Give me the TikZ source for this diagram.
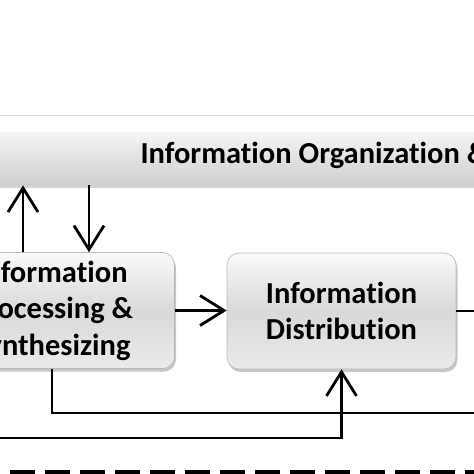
\documentclass[tikz,border=0pt]{standalone}
\usepackage{fontspec}
\setmainfont{Carlito}[Ligatures={NoCommon}]
\usetikzlibrary{arrows.meta, shadows, calc}

\tikzset{
  blockbox/.style={rounded corners=12pt, draw=gray!55, line width=0.6pt,
    top color=gray!4, bottom color=gray!16, middle color=gray!30,
    minimum height=116pt, align=center,
    font=\fontsize{30.5}{36.5}\selectfont\bfseries,
    drop shadow={shadow xshift=1.5pt, shadow yshift=-3pt, opacity=0.45}},
  orgbar/.style={top color=gray!8, bottom color=gray!38, draw=none,
    minimum width=520pt, minimum height=53pt, anchor=north west,
    drop shadow={shadow xshift=0pt, shadow yshift=-3pt, opacity=0.35}},
  flow/.style={line width=2.8pt, -{Straight Barb[length=24pt, width=30pt, line width=2.8pt]}},
  wire/.style={line width=2.8pt},
}

\begin{document}
\begin{tikzpicture}[x=1pt, y=-1pt]
    % 1. Frame of the picture
    \path[use as bounding box, clip] (0,0) rectangle (474,474);
    \draw[gray!25, line width=0.8pt] (0,115) -- (474,115);

    % 2. Organization bar and the two blocks
    \node[orgbar] (org) at (-20,132) {};
    \node[anchor=base west, font=\fontsize{30.5}{36.5}\selectfont\bfseries] (orgtext) at (137,163) {Information Organization \&};
    \node[blockbox, minimum width=245pt] (proc) at (52,310.5) {Information\\Processing \&\\Synthesizing};
    \node[blockbox, minimum width=229pt] (dist) at (341.5,311) {Information\\Distribution};

    % 3. Helper coordinates
    \coordinate (upx) at (23,0);
    \coordinate (downx) at (89,0);
    \coordinate (loopx) at (52,0);
    \coordinate (outr) at (480,413);
    \coordinate (inl) at (-5,438);

    % 4. Connectors
    \draw[flow] (upx |- proc.north) -- (upx |- org.south);
    \draw[flow] (downx |- org.south) -- (downx |- proc.north);
    \draw[flow] (proc.east) -- (proc.east -| dist.west);
    \draw[wire] (dist.east) -- ++(30,0);
    \draw[wire] (loopx |- proc.south) |- (outr);
    \draw[flow] (inl) -| (dist.south);

    % 5. Dashed border at the bottom
    \draw[line width=6pt, dash pattern=on 25pt off 10pt] (10,473) -- (480,473);
\end{tikzpicture}
\end{document}
